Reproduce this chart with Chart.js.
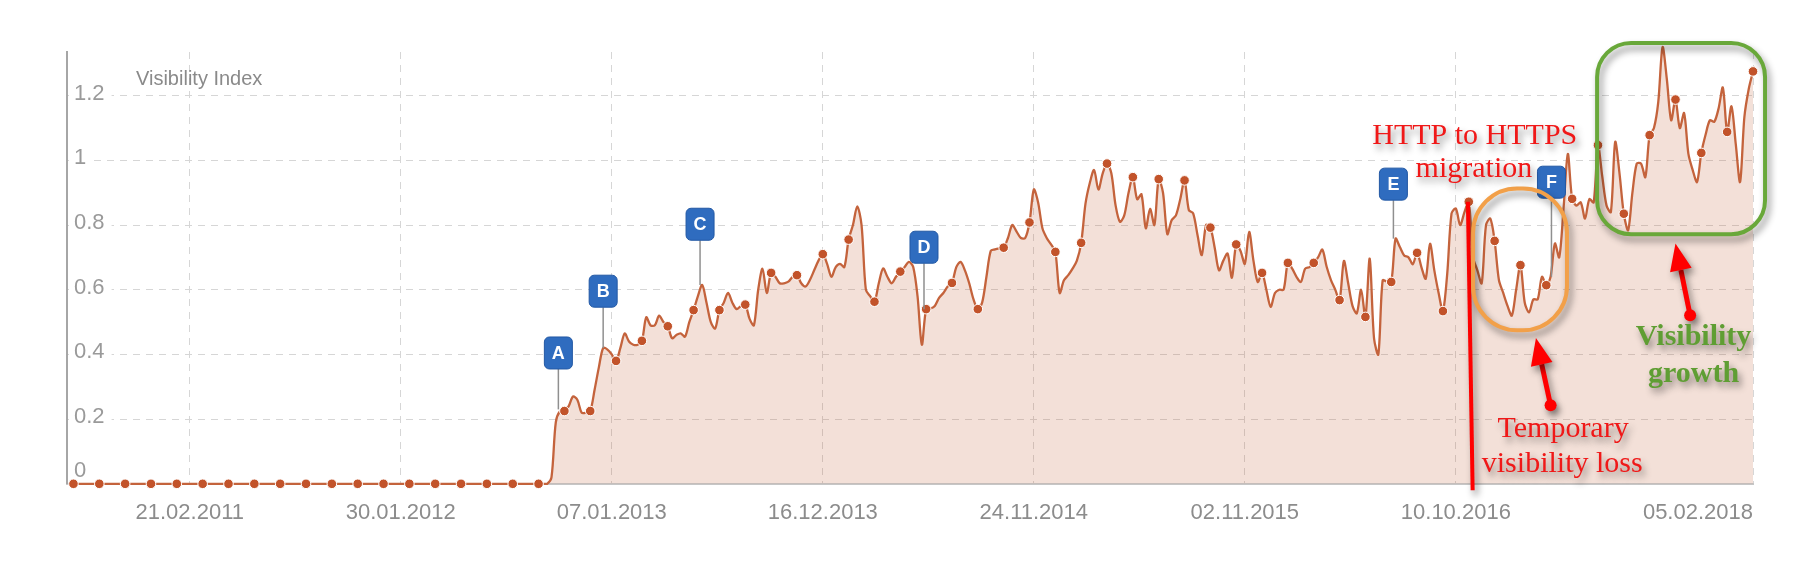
<!DOCTYPE html>
<html><head><meta charset="utf-8">
<script src="https://cdn.jsdelivr.net/npm/chart.js@4/dist/chart.umd.min.js"></script>
<style>html,body{margin:0;padding:0;background:#fff;overflow:hidden}#wrap{position:relative;width:1814px;height:573px}</style>
</head><body><div id="wrap"><canvas id="c"></canvas></div>
<script>
// ---- data (weekly visibility index, first value = week -28 relative to 21.02.2011) ----
const firstWeek = -28;
const visibility = [
0,0,0,0,0,0,0,0,0,0,0,0,0,0,0,0,0,0,0,0,
0,0,0,0,0,0,0,0,0,0,0,0,0,0,0,0,0,0,0,0,
0,0,0,0,0,0,0,0,0,0,0,0,0,0,0,0,0,0,0,0,
0,0,0,0,0,0,0,0,0,0,0,0,0,0,0,0,0,0,0,0,
0,0,0,0,0,0,0,0,0,0,0,0,0,0,0,0,0,0,0,0,
0,0,0,0,0,0,0,0,0,0,0,0,
0.02,0.19,0.225,0.225,0.24,0.27,0.26,0.22,0.22,0.225,
0.29,0.36,0.42,0.415,0.40,0.38,0.42,0.465,0.44,0.43,
0.43,0.442,0.515,0.49,0.49,0.52,0.50,0.487,0.45,0.46,
0.465,0.455,0.50,0.537,0.58,0.615,0.56,0.50,0.48,0.537,
0.56,0.59,0.56,0.54,0.55,0.554,0.51,0.49,0.60,0.665,
0.59,0.652,0.64,0.62,0.62,0.625,0.64,0.645,0.62,0.61,
0.63,0.66,0.69,0.71,0.68,0.64,0.67,0.68,0.67,0.755,
0.80,0.858,0.80,0.60,0.58,0.563,0.62,0.666,0.64,0.62,
0.64,0.656,0.67,0.686,0.67,0.58,0.43,0.54,0.542,0.55,
0.575,0.59,0.61,0.621,0.67,0.686,0.66,0.62,0.57,0.54,
0.56,0.64,0.72,0.725,0.728,0.73,0.76,0.80,0.78,0.76,
0.76,0.808,0.91,0.87,0.79,0.76,0.74,0.717,0.59,0.629,
0.645,0.665,0.69,0.745,0.866,0.93,0.97,0.91,0.96,0.99,
0.96,0.86,0.81,0.83,0.90,0.948,0.88,0.895,0.79,0.85,
0.80,0.942,0.90,0.772,0.815,0.83,0.88,0.938,0.846,0.836,
0.77,0.707,0.80,0.792,0.73,0.66,0.69,0.712,0.637,0.74,
0.72,0.68,0.779,0.69,0.624,0.652,0.60,0.547,0.59,0.60,
0.60,0.683,0.665,0.64,0.624,0.665,0.67,0.683,0.70,0.724,
0.671,0.63,0.60,0.568,0.689,0.62,0.55,0.527,0.60,0.516,
0.696,0.45,0.40,0.629,0.625,0.624,0.758,0.732,0.706,0.70,
0.679,0.714,0.67,0.634,0.742,0.66,0.59,0.534,0.65,0.836,
0.851,0.80,0.84,0.872,0.70,0.66,0.62,0.80,0.82,0.751,
0.63,0.59,0.55,0.52,0.60,0.676,0.56,0.53,0.57,0.57,
0.64,0.614,0.64,0.743,0.70,0.85,1.02,0.881,0.86,0.87,
0.82,0.88,0.87,1.047,0.95,0.86,0.84,1.057,0.96,0.835,
0.784,0.90,0.99,0.99,0.948,1.078,1.10,1.18,1.35,1.25,
1.124,1.188,1.10,1.146,1.02,0.97,0.933,1.023,1.08,1.124,
1.119,1.16,1.225,1.088,1.167,1.05,0.933,1.134,1.22,1.275
];
const tickWeeks  = [0, 49, 98, 147, 196, 245, 294, 363];
const tickLabels = ['21.02.2011','30.01.2012','07.01.2013','16.12.2013','24.11.2014','02.11.2015','10.10.2016','05.02.2018'];
const yTickValues = [0, 0.2, 0.4, 0.6, 0.8, 1, 1.2];
const yTickLabels = ['0', '0.2', '0.4', '0.6', '0.8', '1', '1.2'];
const axisTitle = 'Visibility Index';

// event flags
const flagLetters    = ['A', 'B', 'C', 'D', 'E', 'F'];
const flagWeeks      = [85.6, 96, 118.5, 170.5, 279.5, 316.2];
const flagStemEnds   = [0.23, 0.42, 0.615, 0.54, 0.758, 0.64];
const flagBoxBottoms = [0.355, 0.546, 0.753, 0.682, 0.877, 0.883];

// annotations (week, value)
const migrationLine = [[296.8, 0.872], [297.9, -0.02]];
const redTexts = [
  ['HTTP to HTTPS', 298.4, 1.052],
  ['migration', 298.2, 0.948],
  ['Temporary', 318.9, 0.144],
  ['visibility loss', 318.7, 0.037]
];
const greenTexts = [
  ['Visibility', 349.2, 0.428],
  ['growth', 349.2, 0.315]
];
const lossBox   = [298.0, 0.913, 319.8, 0.4745];
const growthBox = [326.8, 1.363, 365.8, 0.7716];
const arrows = [
  [316.0, 0.243, 312.6, 0.451],
  [348.4, 0.521, 345.0, 0.743]
];

// ---- drawing helpers ----
function rr(ctx, x, y, w, h, r) {
  ctx.beginPath();
  ctx.moveTo(x + r, y);
  ctx.arcTo(x + w, y, x + w, y + h, r);
  ctx.arcTo(x + w, y + h, x, y + h, r);
  ctx.arcTo(x, y + h, x, y, r);
  ctx.arcTo(x, y, x + w, y, r);
  ctx.closePath();
}
function shadow(ctx, on) {
  if (on) { ctx.shadowColor = 'rgba(0,0,0,0.45)'; ctx.shadowBlur = 7; ctx.shadowOffsetX = 3; ctx.shadowOffsetY = 5; }
  else { ctx.shadowColor = 'rgba(0,0,0,0)'; ctx.shadowBlur = 0; ctx.shadowOffsetX = 0; ctx.shadowOffsetY = 0; }
}

const yLabelPlugin = {
  id: 'yLabels',
  afterDatasetsDraw(chart) {
    const ctx = chart.ctx, ys = chart.scales.y, area = chart.chartArea;
    ctx.save();
    ctx.font = '22px "Liberation Sans", Arial, sans-serif';
    ctx.textBaseline = 'middle';
    ctx.textAlign = 'left';
    yTickValues.forEach((v, i) => {
      const py = ys.getPixelForValue(v);
      const t = yTickLabels[i];
      const w = ctx.measureText(t).width;
      const x = area.left + 7;
      if (v === 0) {
        ctx.fillStyle = '#9a9a9a';
        ctx.fillText(t, x, py - 13);
      } else {
        ctx.fillStyle = '#fff';
        ctx.fillRect(area.left + 2, py - 3, w + 12, 6);
        ctx.fillStyle = '#9a9a9a';
        ctx.fillText(t, x, py - 2);
      }
    });
    ctx.font = '20px "Liberation Sans", Arial, sans-serif';
    ctx.textBaseline = 'alphabetic';
    ctx.fillStyle = '#8a8a8a';
    ctx.fillText(axisTitle, area.left + 69, 84.5);
    ctx.restore();
  }
};

const flagPlugin = {
  id: 'flags',
  afterDatasetsDraw(chart) {
    const ctx = chart.ctx, xs = chart.scales.x, ys = chart.scales.y;
    ctx.save();
    flagLetters.forEach((L, i) => {
      const x = xs.getPixelForValue(flagWeeks[i]);
      const yb = ys.getPixelForValue(flagBoxBottoms[i]);
      const ye = ys.getPixelForValue(flagStemEnds[i]);
      ctx.strokeStyle = '#8f8f8f';
      ctx.lineWidth = 1.5;
      ctx.beginPath(); ctx.moveTo(x, yb); ctx.lineTo(x, ye); ctx.stroke();
      const w = 28, h = 32;
      rr(ctx, x - w / 2, yb - h, w, h, 5);
      ctx.fillStyle = '#2f6cbf';
      ctx.fill();
      ctx.strokeStyle = '#2258a4';
      ctx.lineWidth = 1;
      ctx.stroke();
      ctx.fillStyle = '#fff';
      ctx.font = 'bold 18px "Liberation Sans", Arial, sans-serif';
      ctx.textAlign = 'center';
      ctx.textBaseline = 'middle';
      ctx.fillText(L, x, yb - h / 2 + 1);
    });
    ctx.restore();
  }
};

const annotationPlugin = {
  id: 'annot',
  afterDraw(chart) {
    const ctx = chart.ctx, xs = chart.scales.x, ys = chart.scales.y;
    const P = (w, v) => [xs.getPixelForValue(w), ys.getPixelForValue(v)];
    ctx.save();
    // migration line
    const a = P(migrationLine[0][0], migrationLine[0][1]);
    const b = P(migrationLine[1][0], migrationLine[1][1]);
    shadow(ctx, true);
    ctx.strokeStyle = '#ff0000';
    ctx.lineWidth = 4;
    ctx.beginPath(); ctx.moveTo(a[0], a[1]); ctx.lineTo(b[0], b[1]); ctx.stroke();

    // boxes
    function box(bx, color, r) {
      const p1 = P(bx[0], bx[1]), p2 = P(bx[2], bx[3]);
      rr(ctx, p1[0], p1[1], p2[0] - p1[0], p2[1] - p1[1], r);
      ctx.strokeStyle = color;
      ctx.lineWidth = 4;
      ctx.stroke();
    }
    box(lossBox, '#f2a049', 44);
    box(growthBox, '#69a83a', 34);

    // arrows
    arrows.forEach(ar => {
      const t = P(ar[0], ar[1]), h = P(ar[2], ar[3]);
      const dx = h[0] - t[0], dy = h[1] - t[1];
      const len = Math.hypot(dx, dy), ux = dx / len, uy = dy / len;
      const hl = 27, hw = 11;
      const bx = h[0] - ux * hl, by = h[1] - uy * hl;
      ctx.strokeStyle = '#ff0000';
      ctx.fillStyle = '#ff0000';
      ctx.lineWidth = 5;
      ctx.beginPath(); ctx.moveTo(t[0], t[1]); ctx.lineTo(bx, by); ctx.stroke();
      ctx.beginPath();
      ctx.moveTo(h[0], h[1]);
      ctx.lineTo(bx - uy * hw, by + ux * hw);
      ctx.lineTo(bx + uy * hw, by - ux * hw);
      ctx.closePath(); ctx.fill();
      ctx.beginPath(); ctx.arc(t[0], t[1], 6, 0, Math.PI * 2); ctx.fill();
    });

    // texts
    ctx.textAlign = 'center';
    ctx.textBaseline = 'alphabetic';
    ctx.font = '30px "Liberation Serif", "Times New Roman", serif';
    ctx.fillStyle = '#f01818';
    redTexts.forEach(t => { const p = P(t[1], t[2]); ctx.fillText(t[0], p[0], p[1]); });
    ctx.font = 'bold 30px "Liberation Serif", "Times New Roman", serif';
    ctx.fillStyle = '#5f9e33';
    greenTexts.forEach(t => { const p = P(t[1], t[2]); ctx.fillText(t[0], p[0], p[1]); });
    ctx.restore();
  }
};

const points = visibility.map((v, i) => ({ x: firstWeek + i, y: v }));

new Chart(document.getElementById('c'), {
  type: 'line',
  data: {
    datasets: [{
      label: axisTitle,
      data: points,
      borderColor: '#c4633c',
      borderWidth: 2.3,
      backgroundColor: 'rgba(196,99,60,0.2)',
      fill: 'origin',
      tension: 0.3,
      clip: false,
      pointRadius: ctx => { const w = firstWeek + ctx.dataIndex; return (((w % 6) + 6) % 6 === 3) ? 4.8 : 0; },
      pointBackgroundColor: '#c2532a',
      pointBorderColor: '#ffffff',
      pointBorderWidth: 1,
      pointHoverRadius: 4.8
    }]
  },
  options: {
    responsive: true,
    maintainAspectRatio: false,
    animation: false,
    events: [],
    layout: { padding: { left: 67, right: 61, top: 52, bottom: 30.8 } },
    plugins: { legend: { display: false }, tooltip: { enabled: false }, title: { display: false } },
    scales: {
      x: {
        type: 'linear',
        min: -28.5,
        max: 363,
        afterBuildTicks: s => { s.ticks = [{ value: -28.5 }].concat(tickWeeks.map(v => ({ value: v }))); },
        ticks: {
          callback: v => { const i = tickWeeks.indexOf(v); return i < 0 ? '' : tickLabels[i]; },
          align: 'inner',
          autoSkip: false,
          maxRotation: 0,
          minRotation: 0,
          padding: 16,
          color: '#8c8c8c',
          font: { family: '"Liberation Sans", Arial, sans-serif', size: 22 }
        },
        grid: {
          color: c => (c.tick && c.tick.value === -28.5) ? 'rgba(0,0,0,0)' : '#d6d6d6',
          lineWidth: 1,
          drawTicks: false
        },
        border: { display: true, color: '#c6c6c6', width: 2, dash: [7, 6] }
      },
      y: {
        min: 0,
        max: 1.335,
        afterBuildTicks: s => { s.ticks = yTickValues.map(v => ({ value: v })); },
        ticks: { display: false },
        grid: { color: '#d6d6d6', lineWidth: 1, drawTicks: false },
        border: { display: true, color: '#a6a6a6', width: 2, dash: [7, 6] }
      }
    }
  },
  plugins: [yLabelPlugin, flagPlugin, annotationPlugin]
});
</script>
</body></html>
